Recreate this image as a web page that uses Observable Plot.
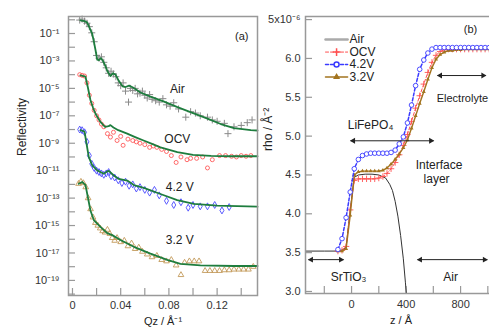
<!DOCTYPE html>
<html><head><meta charset="utf-8">
<script src="https://cdn.jsdelivr.net/npm/d3@7"></script>
<script src="https://cdn.jsdelivr.net/npm/@observablehq/plot@0.6"></script>
<style>
html,body{margin:0;padding:0;background:#fff;}
#wrap{position:relative;width:489px;height:332px;overflow:hidden;background:#fff;}
#pa,#pb{position:absolute;top:0;height:332px;}
#pa{left:0;width:262px;} #pb{left:240px;width:260px;}
#pa svg,#pb svg{max-width:none !important;}
</style></head><body><div id="wrap"><div id="pb"></div><div id="pa"></div></div>
<script>
// ---------- Panel (a) data: Qz (1/Å) and log10(reflectivity) ----------
const airFitQ = [0.0066,0.0100,0.0122,0.0140,0.0163,0.0180,0.0191,0.0205,0.0220,0.0235,0.0250,0.0270,0.0290,0.0315,0.0335,0.0357,0.0384,0.0415,0.0440,0.0470,0.0506,0.0564,0.0647,0.0755,0.0871,0.0979,0.112,0.123,0.134,0.148,0.1535];
const airFitLog = [-0.05,-0.10,-0.2,-0.55,-1.0,-1.7,-2.2,-2.9,-2.95,-2.8,-2.95,-3.3,-3.75,-4.1,-3.9,-4.0,-4.45,-4.85,-4.9,-4.8,-4.95,-5.3,-5.6,-5.95,-6.37,-6.73,-7.2,-7.6,-7.9,-8.05,-8.07];
const ocvFitQ = [0.0066,0.0108,0.0127,0.0149,0.0170,0.0191,0.0232,0.0270,0.0300,0.0315,0.0340,0.0380,0.0454,0.0520,0.059,0.066,0.073,0.087,0.100,0.115,0.130,0.1535];
const ocvFitLog = [-4.05,-4.15,-4.9,-5.85,-6.4,-6.85,-7.45,-7.8,-7.75,-7.68,-7.85,-8.05,-8.3,-8.55,-8.8,-9.05,-9.3,-9.65,-9.85,-9.92,-9.95,-9.95];
const v42FitQ = [0.0066,0.0100,0.0116,0.0135,0.0163,0.0205,0.0260,0.0290,0.0301,0.0343,0.0384,0.0454,0.0509,0.0592,0.073,0.0869,0.1007,0.120,0.1535];
const v42FitLog = [-8.05,-8.15,-9.0,-10.0,-10.6,-10.98,-11.22,-11.05,-11.02,-11.35,-11.6,-11.72,-12.05,-12.25,-12.7,-13.15,-13.42,-13.55,-13.62];
const v32FitQ = [0.0052,0.0080,0.0108,0.0127,0.0149,0.0177,0.0232,0.0288,0.0330,0.0398,0.0509,0.0647,0.0786,0.0896,0.1062,0.134,0.1535];
const v32FitLog = [-11.95,-11.82,-12.05,-12.9,-13.9,-14.6,-15.1,-15.55,-15.7,-16.05,-16.55,-17.05,-17.5,-17.8,-17.9,-17.95,-17.95];

const airQ = [0.006,0.008,0.010,0.012,0.014,0.016,0.018,0.020,0.022,0.024,0.026,0.028,0.030,0.032,0.034,0.036,0.038,0.040,0.042,0.044,0.0465,0.048,0.050,0.052,0.054,0.056,0.058,0.060,0.062,0.064,0.066,0.069,0.072,0.075,0.078,0.081,0.084,0.088,0.094,0.098,0.102,0.106,0.112,0.116,0.120,0.126,0.129,0.134,0.140,0.145,0.149];
const airLog = [-0.02,0.05,-0.1,-0.25,-0.5,-0.95,-1.6,-2.6,-2.8,-2.7,-3.1,-3.5,-3.9,-3.75,-3.95,-4.15,-4.6,-4.8,-4.6,-5.2,-6.0,-5.0,-5.15,-5.0,-5.4,-5.35,-5.2,-5.5,-5.7,-5.45,-5.8,-5.9,-6.0,-5.75,-6.2,-6.3,-6.05,-6.5,-7.1,-6.7,-6.8,-7.0,-7.1,-7.3,-7.4,-7.55,-8.3,-7.8,-7.7,-7.5,-7.3];
const ocvQ = [0.006,0.008,0.010,0.012,0.014,0.016,0.018,0.020,0.022,0.024,0.026,0.029,0.0315,0.034,0.037,0.040,0.042,0.046,0.050,0.053,0.056,0.060,0.064,0.067,0.070,0.074,0.078,0.082,0.086,0.090,0.095,0.098,0.103,0.108,0.112,0.116,0.122,0.127,0.132,0.136,0.140,0.144,0.148];
const ocvLog = [-4.0,-4.05,-4.1,-4.6,-5.5,-6.1,-6.6,-7.0,-7.3,-7.6,-7.8,-8.3,-8.55,-8.2,-8.8,-8.5,-9.15,-8.7,-8.8,-8.9,-9.0,-9.1,-9.3,-9.2,-9.3,-9.45,-9.6,-9.9,-10.4,-10.0,-10.2,-10.1,-10.1,-10.0,-10.8,-10.2,-9.9,-9.9,-9.95,-10.0,-9.9,-9.95,-9.9];
const v42Q = [0.006,0.008,0.010,0.012,0.014,0.016,0.018,0.020,0.022,0.024,0.026,0.028,0.030,0.032,0.035,0.038,0.041,0.044,0.047,0.050,0.053,0.056,0.060,0.064,0.068,0.072,0.078,0.084,0.090,0.096,0.100,0.106,0.112,0.118,0.124,0.130];
const v42Log = [-8.0,-8.05,-8.2,-8.9,-9.9,-10.5,-10.8,-11.0,-11.1,-11.2,-11.3,-11.2,-11.1,-11.4,-11.5,-11.7,-11.9,-11.8,-12.1,-12.0,-12.3,-12.2,-12.4,-12.6,-12.4,-12.8,-13.2,-13.5,-13.3,-13.7,-13.5,-13.6,-13.6,-13.5,-13.9,-13.65];
const v32Q = [0.005,0.007,0.009,0.011,0.013,0.015,0.017,0.019,0.021,0.023,0.025,0.027,0.029,0.031,0.033,0.035,0.037,0.040,0.043,0.046,0.049,0.052,0.055,0.058,0.062,0.066,0.070,0.074,0.078,0.082,0.086,0.090,0.093,0.097,0.101,0.105,0.110,0.114,0.118,0.122,0.126,0.130,0.134,0.138,0.142,0.146,0.150];
const v32Log = [-11.95,-11.8,-11.9,-12.2,-13.0,-13.8,-14.4,-14.8,-15.0,-15.2,-15.4,-15.5,-15.3,-15.6,-15.9,-16.1,-15.9,-16.2,-16.1,-16.5,-16.3,-16.7,-16.6,-16.9,-17.1,-17.3,-17.2,-17.5,-17.6,-17.5,-17.9,-18.6,-17.7,-17.6,-17.6,-17.6,-18.3,-18.3,-18.3,-18.3,-18.25,-18.25,-18.2,-18.2,-18.2,-18.2,-18.0];

const aDecades = d3.range(0, -21, -1);          // minor + major tick exponents
const aLabelExp = [-1,-3,-5,-7,-9,-11,-13,-15,-17,-19];
const aQTicks = [0,0.02,0.04,0.06,0.08,0.10,0.12,0.14];
const aQLabels = [0,0.04,0.08,0.12];
const aNames = ["Air","OCV","4.2 V","3.2 V"];
const aNameQ = [0.087,0.087,0.089,0.089];
const aNameLog = [-5.04,-8.72,-12.22,-16.08];

// ---------- Panel (b) data: z (Å) and rho (x10^-6 Å^-2) ----------
const zGrid = [-100,-70,-40,-10,20,50,80,110,140,170,200,230,260,290,320,350,380,410,440,470,500,530,560,590,620,650,680,710,740,770,800,830,860,890,920,950,980,1010,1040,1070];
const rhoOCV = [3.52,3.53,3.58,4.05,4.43,4.45,4.45,4.45,4.45,4.45,4.46,4.48,4.52,4.58,4.66,4.76,4.88,5.02,5.19,5.36,5.52,5.67,5.82,5.95,6.04,6.09,6.11,6.12,6.12,6.12,6.12,6.12,6.12,6.12,6.12,6.12,6.12,6.12,6.12,6.12];
const rho42 = [3.54,3.68,3.95,4.28,4.58,4.70,4.75,4.77,4.78,4.78,4.78,4.78,4.78,4.79,4.82,4.90,4.99,5.17,5.40,5.65,5.86,5.98,6.07,6.12,6.14,6.14,6.14,6.14,6.14,6.14,6.14,6.14,6.14,6.14,6.14,6.14,6.14,6.14,6.14,6.14];
const rho32 = [3.52,3.52,3.55,3.98,4.50,4.54,4.55,4.55,4.55,4.55,4.55,4.56,4.59,4.64,4.70,4.77,4.85,4.95,5.10,5.26,5.42,5.57,5.73,5.88,5.99,6.05,6.08,6.10,6.10,6.11,6.11,6.12,6.12,6.12,6.12,6.12,6.12,6.12,6.12,6.12];
const zAir = [-338,-200,-100,-70,-40,-10,20,50,100,150,200,250,280,300,320,340,360,380,395,403,415];
const rhoAir = [3.52,3.52,3.52,3.53,3.57,4.05,4.47,4.50,4.51,4.51,4.50,4.46,4.38,4.30,4.16,3.97,3.72,3.42,3.12,2.95,2.60];

const bYTicks = [3.0,3.5,4.0,4.5,5.0,5.5,6.0,6.5];
const bZTicks = [-200,0,200,400,600,800,1000];
const bZLabels = [0,400,800];
const legNames = ["Air","OCV","4.2V","3.2V"];
const legRho = [6.243,6.082,5.921,5.761];
const regionNames = ["SrTiO₃","Air","LiFePO₄","Interface","layer"];
const regionZ = [-22,727,139,642,624];
const regionRho = [3.18,3.18,5.14,4.62,4.45];
const electrolyteZ = 625, electrolyteRho = 5.48;
const arrowZ1 = [-316,484,-7,631];
const arrowZ2 = [-59,996,602,985];
const arrowRho = [3.41,3.41,4.94,5.78];

// ---------- helpers ----------
const sup = s => String(s).replace(/[-0-9]/g, c => "⁻⁰¹²³⁴⁵⁶⁷⁸⁹"["-0123456789".indexOf(c)]);
const toRows = (q, lg) => q.map((x, i) => ({q: x, r: Math.pow(10, lg[i])}));
const font = "'Liberation Sans', Arial, Helvetica, sans-serif";
const GREEN = "#1e7d3e";

const pa = Plot.plot({
  width: 262, height: 332, marginLeft: 68, marginRight: 5, marginTop: 16, marginBottom: 37,
  style: {background: "transparent", fontFamily: font, fontSize: "11px", color: "#333"},
  x: {domain: [-0.0033, 0.1535]},
  y: {type: "log", domain: [Math.pow(10, -20.1), Math.pow(10, 0.24)]},
  marks: [
    Plot.tickY(aDecades, {y: d => Math.pow(10, d), insetRight: 182, stroke: "#999", strokeWidth: 1.2}),
    Plot.tickX(aQTicks, {x: d => d, insetTop: 272, stroke: "#999", strokeWidth: 1.2}),
    Plot.axisY({ticks: aLabelExp.map(e => Math.pow(10, e)), tickSize: 0, tickPadding: 9,
      tickFormat: d => "10" + sup(Math.round(Math.log10(d))), label: null, fontSize: 11}),
    Plot.axisX({ticks: aQLabels, tickSize: 0, tickPadding: 6, tickFormat: d => d === 0 ? "0" : String(d), label: null, fontSize: 11}),
    Plot.dot(toRows(airQ, airLog), {x: "q", y: "r", symbol: "plus", stroke: "#8a8a8a", r: 2.4, strokeWidth: 1}),
    Plot.dot(toRows(ocvQ, ocvLog), {x: "q", y: "r", symbol: "circle", stroke: "#ff5a5a", fill: "none", r: 2, strokeWidth: 0.9}),
    Plot.dot(toRows(v42Q, v42Log), {x: "q", y: "r", symbol: "diamond", stroke: "#4a4aff", fill: "none", r: 2.1, strokeWidth: 0.9}),
    Plot.dot(toRows(v32Q, v32Log), {x: "q", y: "r", symbol: "triangle", stroke: "#c39a5a", fill: "none", r: 2.1, strokeWidth: 0.9}),
    Plot.line(toRows(airFitQ, airFitLog), {x: "q", y: "r", stroke: GREEN, strokeWidth: 1.8}),
    Plot.line(toRows(ocvFitQ, ocvFitLog), {x: "q", y: "r", stroke: GREEN, strokeWidth: 1.8}),
    Plot.line(toRows(v42FitQ, v42FitLog), {x: "q", y: "r", stroke: GREEN, strokeWidth: 1.8}),
    Plot.line(toRows(v32FitQ, v32FitLog), {x: "q", y: "r", stroke: GREEN, strokeWidth: 1.8}),
    Plot.text(aNames, {x: (d, i) => aNameQ[i], y: (d, i) => Math.pow(10, aNameLog[i]), text: d => d, fontSize: 12, fill: "#222"}),
    Plot.text(["(a)"], {frameAnchor: "top-right", dx: -9, dy: 16, fontSize: 11, fill: "#222"}),
    Plot.text(["Reflectivity"], {frameAnchor: "left", dx: -46, rotate: -90, fontSize: 12, fill: "#222"}),
    Plot.text(["Qz / Å⁻¹"], {frameAnchor: "bottom", dy: 29, fontSize: 11, fill: "#222"}),
    Plot.frame({stroke: "#999", strokeWidth: 1.5})
  ]
});
document.getElementById("pa").appendChild(pa);

const bRows = (z, rho) => z.map((x, i) => ({z: x, rho: rho[i]}));
const RED = "#ff5050", BLUE = "#3a3aff", BROWN = "#a3741f";
const legLineRows = legNames.flatMap((n, i) => [{z: -191, rho: legRho[i], n}, {z: -29, rho: legRho[i], n}]);
const legStyle = {Air: {stroke: "#aaa", w: 2.5, dash: null}, OCV: {stroke: RED, w: 1, dash: "3,2"}, "4.2V": {stroke: BLUE, w: 1.5, dash: "3,2"}, "3.2V": {stroke: BROWN, w: 1.5, dash: null}};
const arrowRows = arrowZ1.map((z1, i) => ({z1, z2: arrowZ2[i], rho: arrowRho[i]}));
const headRows = arrowRows.flatMap(a => [{z: a.z1 + 20, rho: a.rho, rot: -90}, {z: a.z2 - 20, rho: a.rho, rot: 90}]);

const pb = Plot.plot({
  width: 260, height: 332, marginLeft: 65, marginRight: 0, marginTop: 16, marginBottom: 39,
  style: {background: "transparent", fontFamily: font, fontSize: "11px", color: "#333"},
  x: {domain: [-338, 1093]},
  y: {domain: [2.974, 6.54]},
  marks: [
    Plot.tickY(bYTicks, {y: d => d, insetRight: 188, stroke: "#999", strokeWidth: 1.2}),
    Plot.tickX(bZTicks, {x: d => d, insetTop: 270, stroke: "#999", strokeWidth: 1.2}),
    Plot.axisY({ticks: bYTicks, tickSize: 0, tickPadding: 5, tickFormat: d => d === 6.5 ? "5x10⁻⁶" : d.toFixed(1), label: null, fontSize: 11}),
    Plot.axisX({ticks: bZLabels, tickSize: 0, tickPadding: 7, tickFormat: d => String(d), label: null, fontSize: 11}),
    Plot.line(bRows(zAir, rhoAir), {x: "z", y: "rho", stroke: "#333", strokeWidth: 1, clip: true}),
    Plot.line(bRows(zGrid, rhoOCV), {x: "z", y: "rho", stroke: RED, strokeWidth: 1, strokeDasharray: "3,2", clip: true}),
    Plot.dot(bRows(zGrid, rhoOCV), {x: "z", y: "rho", symbol: "plus", stroke: RED, r: 2.2, strokeWidth: 0.9, clip: true}),
    Plot.line(bRows(zGrid, rho32), {x: "z", y: "rho", stroke: BROWN, strokeWidth: 1.4, clip: true}),
    Plot.dot(bRows(zGrid, rho32), {x: "z", y: "rho", symbol: "triangle", fill: BROWN, r: 1.5, clip: true}),
    Plot.line(bRows(zGrid, rho42), {x: "z", y: "rho", stroke: BLUE, strokeWidth: 1.5, strokeDasharray: "3,2", clip: true}),
    Plot.dot(bRows(zGrid, rho42), {x: "z", y: "rho", symbol: "circle", stroke: BLUE, fill: "white", r: 2.3, strokeWidth: 0.9, clip: true}),
    // legend
    ...legNames.map(n => Plot.line(legLineRows.filter(d => d.n === n), {x: "z", y: "rho", stroke: legStyle[n].stroke, strokeWidth: legStyle[n].w, strokeDasharray: legStyle[n].dash})),
    Plot.dot([legRho[1]], {x: -110, y: d => d, symbol: "plus", stroke: RED, r: 2.6}),
    Plot.dot([legRho[2]], {x: -110, y: d => d, symbol: "circle", stroke: BLUE, fill: "white", r: 2.5}),
    Plot.dot([legRho[3]], {x: -110, y: d => d, symbol: "triangle", fill: BROWN, r: 2.6}),
    Plot.text(legNames, {x: -15, y: (d, i) => legRho[i], text: d => d, textAnchor: "start", fontSize: 12, fill: "#222"}),
    // region annotations
    Plot.link(arrowRows, {x1: "z1", x2: "z2", y1: "rho", y2: "rho", stroke: "#222", strokeWidth: 1}),
    Plot.dot(headRows, {x: "z", y: "rho", symbol: "triangle", rotate: "rot", fill: "#222", r: 2.2}),
    Plot.text(regionNames, {x: (d, i) => regionZ[i], y: (d, i) => regionRho[i], text: d => d, fontSize: 12, fill: "#222"}),
    Plot.text(["Electrolyte"], {x: electrolyteZ, y: electrolyteRho, textAnchor: "start", fontSize: 11, fill: "#222"}),
    Plot.text(["(b)"], {x: 873, y: 6.37, fontSize: 11, fill: "#222"}),
    Plot.text(["rho / Å⁻²"], {frameAnchor: "left", dx: -37, dy: -4, rotate: -90, fontSize: 12, fill: "#222"}),
    Plot.text(["z / Å"], {frameAnchor: "bottom", dy: 30, dx: -2, fontSize: 11, fill: "#222"}),
    Plot.frame({stroke: "#999", strokeWidth: 1.5})
  ]
});
document.getElementById("pb").appendChild(pb);
</script></body></html>
